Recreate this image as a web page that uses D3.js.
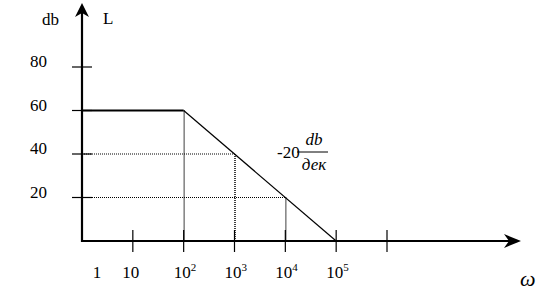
<!DOCTYPE html>
<html>
<head>
<meta charset="utf-8">
<script src="https://cdn.jsdelivr.net/npm/d3@7"></script>
<style>
  body { margin: 0; background: #fff; }
</style>
</head>
<body>
<svg class="chart" width="560" height="303"></svg>
<script>
// valores do gráfico (diagrama de Bode assintótico)
const freq = [1, 100, 1e5];          // ω
const level = [60, 60, 0];           // L, db
const guideFreq = [100, 1e3, 1e4];   // pontos com linhas pontilhadas
const guideLevel = [60, 40, 20];
const yTicks = [20, 40, 60, 80];
const xTicks = [10, 100, 1e3, 1e4, 1e5, 1e6];
const xLabels = [
  { v: 1, base: "1", sup: "" },
  { v: 10, base: "10", sup: "" },
  { v: 100, base: "10", sup: "2" },
  { v: 1e3, base: "10", sup: "3" },
  { v: 1e4, base: "10", sup: "4" },
  { v: 1e5, base: "10", sup: "5" }
];

const serif = 'Liberation Serif, Times New Roman, serif';

const svg = d3.select('svg.chart');

// escalas
const x = d3.scaleLog().domain([1, 1e6]).range([82, 387]);
const y = d3.scaleLinear().domain([0, 80]).range([241, 67]);

const x0 = x(1), y0 = y(0);

// linhas pontilhadas de referência
guideFreq.forEach((f, i) => {
  const L = guideLevel[i];
  if (L !== 60) {
    svg.append('line')
      .attr('x1', x0).attr('x2', x(f))
      .attr('y1', y(L)).attr('y2', y(L))
      .attr('stroke', '#000').attr('stroke-width', 1)
      .attr('stroke-dasharray', '1,1');
  }
  svg.append('line')
    .attr('x1', x(f) + 0.5).attr('x2', x(f) + 0.5)
    .attr('y1', y(L)).attr('y2', y0)
    .attr('stroke', '#000').attr('stroke-width', 1.5)
    .attr('stroke-dasharray', '1,1');
});

// característica
const line = d3.line().x(d => x(d[0])).y(d => y(d[1]));
const pts = freq.map((f, i) => [f, level[i]]);
svg.append('path')
  .attr('d', line(pts.slice(0, 2)))
  .attr('fill', 'none').attr('stroke', '#000').attr('stroke-width', 2);
svg.append('path')
  .attr('d', line(pts.slice(1)))
  .attr('fill', 'none').attr('stroke', '#000').attr('stroke-width', 1.2);

// eixos
svg.append('line')
  .attr('x1', x0).attr('x2', x0).attr('y1', y0 + 1).attr('y2', 12)
  .attr('stroke', '#000').attr('stroke-width', 2.2);
svg.append('line')
  .attr('x1', x0 - 1).attr('x2', 510).attr('y1', y0).attr('y2', y0)
  .attr('stroke', '#000').attr('stroke-width', 2.2);

// setas
svg.append('path')
  .attr('d', `M${x0},3 L${x0 + 7},17 L${x0},13 L${x0 - 7},17 Z`)
  .attr('fill', '#000');
svg.append('path')
  .attr('d', `M521,${y0} L504,${y0 - 7} L509,${y0} L504,${y0 + 7} Z`)
  .attr('fill', '#000');

// ticks do eixo y
svg.selectAll('line.ytick')
  .data(yTicks)
  .join('line')
  .classed('ytick', true)
  .attr('x1', x0 - 10).attr('x2', x0 + 10)
  .attr('y1', d => y(d)).attr('y2', d => y(d))
  .attr('stroke', '#000').attr('stroke-width', 1.2);

svg.selectAll('text.ylabel')
  .data(yTicks)
  .join('text')
  .classed('ylabel', true)
  .attr('x', 47).attr('y', d => y(d))
  .attr('text-anchor', 'end')
  .attr('font-family', serif)
  .attr('font-size', 17)
  .text(d => d);

// ticks do eixo x
svg.selectAll('line.xtick')
  .data(xTicks)
  .join('line')
  .classed('xtick', true)
  .attr('x1', d => x(d)).attr('x2', d => x(d))
  .attr('y1', y0 - 11).attr('y2', y0 + 11)
  .attr('stroke', '#000').attr('stroke-width', 1.2);

const xl = svg.selectAll('text.xlabel')
  .data(xLabels)
  .join('text')
  .classed('xlabel', true)
  .attr('x', d => d.v === 1 ? 97 : d.sup ? x(d.v) - 10 : x(d.v) - 2)
  .attr('y', 278)
  .attr('text-anchor', d => d.sup ? 'start' : 'middle')
  .attr('font-family', serif)
  .attr('font-size', 17);
xl.append('tspan').text(d => d.base);
xl.append('tspan')
  .attr('font-size', 11)
  .attr('dy', -7)
  .text(d => d.sup);

// títulos dos eixos
svg.append('text').attr('x', 42).attr('y', 25).attr('font-family', serif)
  .attr('font-size', 17).text('db');
svg.append('text').attr('x', 103).attr('y', 24).attr('font-family', serif)
  .attr('font-size', 17).text('L');
svg.append('text').attr('x', 520).attr('y', 286).attr('font-family', serif)
  .attr('font-size', 22).attr('font-style', 'italic').text('ω');

// anotação da inclinação
svg.append('text').attr('x', 277).attr('y', 158).attr('font-family', serif)
  .attr('font-size', 17).text('-20');
svg.append('line')
  .attr('x1', 297).attr('x2', 328).attr('y1', 152).attr('y2', 152)
  .attr('stroke', '#000').attr('stroke-width', 1);
svg.append('text').attr('x', 314).attr('y', 145).attr('font-family', serif)
  .attr('font-size', 17).attr('font-style', 'italic').attr('text-anchor', 'middle').text('db');
svg.append('text').attr('x', 314).attr('y', 170).attr('font-family', serif)
  .attr('font-size', 17).attr('font-style', 'italic').attr('text-anchor', 'middle').text('дек');
</script>
</body>
</html>
